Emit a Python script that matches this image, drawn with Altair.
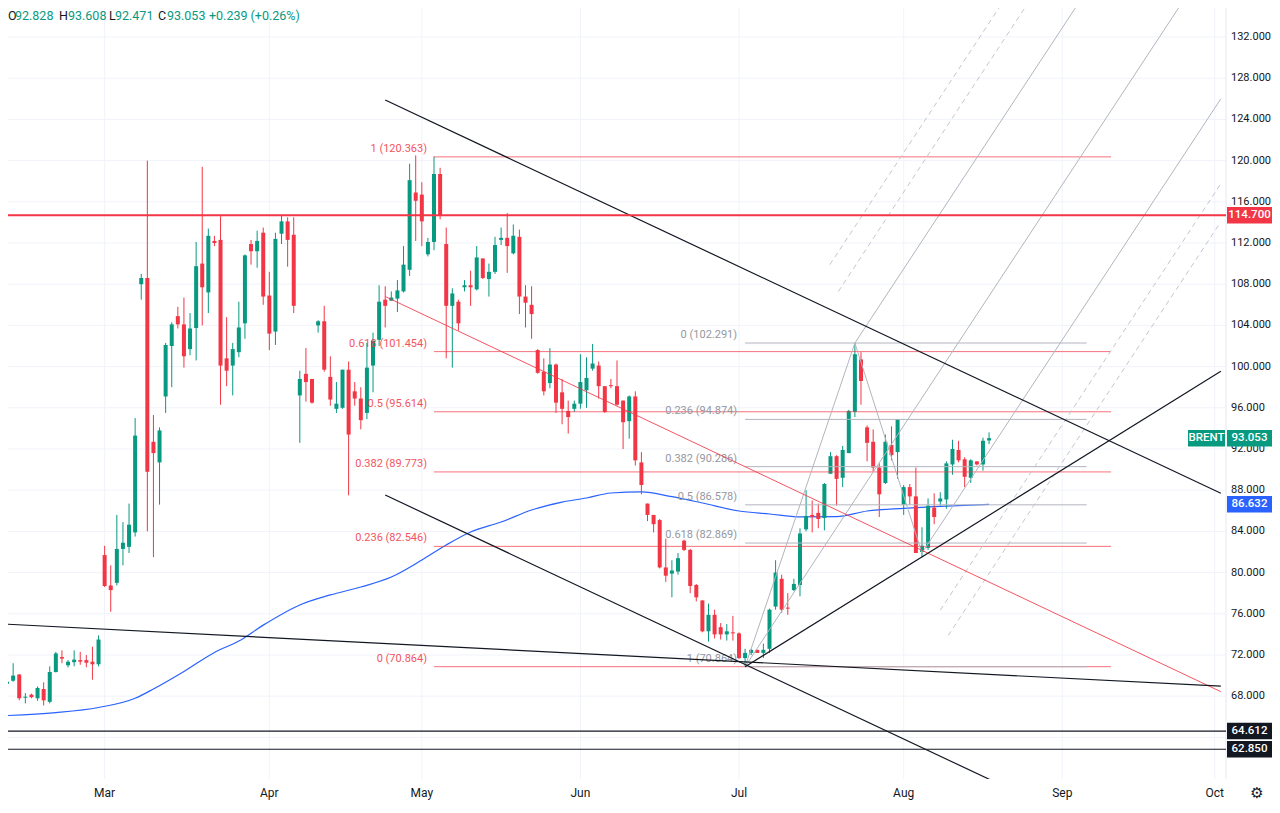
import altair as alt
import pandas as pd
import numpy as np

# ---------------- OHLC daily bars (Feb .. Aug 17) ----------------
bar_open = (
    [69.2, 69.5, 70.1, 67.85, 68.15, 67.8, 68.7, 67.45, 70.35, 71.8, 71.0, 71.3, 71.5, 71.5, 71.35, 71.1]  # Feb
    + [81.7, 78.75, 79.0, 82.3, 82.5, 83.9, 108.0, 108.6, 92.7, 90.7, 97.1, 102.0, 104.9, 104.1, 101.7,
       103.75, 110.0, 107.2, 112.2, 112.3, 100.8, 100.1, 101.4, 104.2, 111.9, 111.2, 113.0]  # Mar
    + [106.9, 103.4, 112.9, 114.1, 112.8, 97.2, 99.3, 98.8, 104.0, 104.4, 99.0, 95.9, 96.0, 99.7, 97.6,
       96.9, 95.5, 100.1, 102.6, 106.5, 106.4, 106.6, 107.3, 109.4, 116.9]  # Apr
    + [116.7, 110.9, 112.1, 118.7, 111.9, 105.9, 106.3, 107.7, 107.9, 107.5, 110.5, 108.5, 109.2, 112.3,
       112.5, 111.0, 112.6, 106.8, 106.0, 101.6, 99.5, 98.4, 100.2, 97.5, 95.7, 95.9]  # May
    + [96.4, 97.7, 99.8, 100.1, 98.1, 98.2, 98.1, 96.7, 94.7, 97.1, 90.7, 86.7, 85.6, 85.1, 80.5, 79.9,
       80.1, 83.1, 82.2, 78.8, 77.3, 74.3, 75.9, 74.7, 74.0, 74.2]  # Jun
    + [74.1, 71.7, 72.2, 72.5, 72.2, 72.6, 76.7, 79.4, 76.6, 78.3, 78.8, 84.2, 85.6, 85.8, 85.3, 89.6,
       91.3, 89.2, 91.6, 95.6, 100.7, 94.1, 92.7, 90.2, 88.7, 92.4, 91.7]  # Jul
    + [86.6, 88.3, 87.4, 82.0, 82.4, 86.3, 86.9, 87.1, 90.5, 91.9, 91.0, 89.2, 90.8, 90.5, 92.828]  # Aug
)
bar_high = (
    [69.6, 71.2, 70.15, 68.3, 68.25, 68.95, 69.35, 70.9, 72.3, 72.45, 71.5, 72.45, 72.3, 72.0, 72.8, 73.9]
    + [82.6, 80.7, 85.6, 84.9, 86.7, 95.0, 109.0, 120.0, 95.3, 94.1, 102.3, 104.3, 105.8, 106.7, 105.2,
       112.1, 119.4, 113.4, 112.7, 114.6, 104.8, 102.3, 106.3, 110.9, 112.3, 113.2, 113.5]
    + [109.2, 113.0, 114.7, 114.5, 114.5, 99.6, 101.8, 98.8, 104.5, 105.9, 101.0, 98.5, 99.7, 100.5, 98.5,
       98.0, 102.3, 103.3, 107.9, 107.8, 107.3, 108.4, 111.7, 119.7, 120.5]
    + [117.9, 112.5, 120.4, 119.3, 113.5, 107.6, 106.5, 108.4, 109.3, 111.7, 110.5, 110.0, 112.6, 113.5,
       114.9, 113.8, 113.3, 107.9, 107.8, 101.7, 100.8, 101.8, 100.3, 98.8, 96.7, 96.7]
    + [101.2, 100.9, 102.2, 100.5, 98.1, 98.8, 100.6, 96.7, 97.2, 97.6, 91.7, 86.7, 85.6, 85.2, 83.3, 81.2,
       81.9, 83.2, 82.3, 78.9, 77.3, 77.0, 76.4, 75.1, 75.0, 75.8]
    + [74.2, 72.6, 72.6, 72.5, 73.1, 76.5, 81.2, 79.8, 78.0, 79.4, 84.3, 88.0, 87.0, 86.7, 88.7, 91.7,
       91.4, 92.3, 95.8, 102.3, 101.4, 94.3, 93.9, 90.6, 93.4, 94.2, 94.9]
    + [88.5, 88.6, 90.2, 84.4, 87.2, 87.7, 87.8, 90.8, 92.9, 92.8, 91.2, 91.0, 90.8, 93.1, 93.608]
)
bar_low = (
    [69.0, 69.4, 67.6, 67.3, 67.8, 67.55, 67.1, 67.3, 70.3, 71.2, 70.8, 70.9, 71.05, 70.8, 69.6, 70.9]
    + [78.6, 76.2, 78.75, 80.7, 81.9, 83.5, 106.5, 84.0, 81.5, 86.6, 95.5, 98.0, 103.7, 99.9, 101.1,
       100.6, 104.0, 105.2, 111.7, 96.3, 98.1, 97.2, 100.9, 102.7, 109.9, 109.6, 106.0]
    + [101.6, 102.1, 111.9, 109.7, 105.2, 92.6, 96.6, 96.4, 103.3, 99.5, 96.2, 95.5, 95.9, 87.5, 96.2,
       93.9, 94.9, 97.5, 102.0, 103.8, 106.4, 105.3, 107.2, 108.8, 112.2]
    + [111.7, 110.7, 111.3, 114.3, 100.8, 99.9, 103.5, 107.3, 105.9, 107.4, 108.5, 106.8, 109.0, 111.8,
       109.1, 110.9, 105.1, 103.8, 102.7, 99.3, 97.2, 97.9, 95.5, 94.4, 93.5, 95.6]
    + [95.9, 96.0, 99.6, 96.9, 95.5, 97.9, 96.2, 92.0, 93.0, 90.4, 87.6, 85.0, 83.9, 80.4, 79.1, 77.6,
       79.8, 82.1, 78.0, 77.2, 74.2, 73.3, 73.6, 73.5, 73.4, 73.4]
    + [71.6, 70.86, 72.0, 72.2, 71.7, 72.2, 76.4, 76.1, 75.9, 78.2, 77.7, 84.0, 83.9, 84.3, 84.1, 89.6,
       86.5, 88.3, 91.6, 95.1, 96.3, 90.8, 89.8, 85.4, 88.6, 90.9, 89.1]
    + [85.6, 86.6, 81.9, 81.5, 82.2, 84.7, 86.5, 86.2, 89.5, 90.7, 88.3, 88.7, 90.4, 89.9, 92.471]
)
bar_close = (
    [69.4, 70.0, 67.8, 67.95, 67.9, 68.8, 67.6, 70.35, 72.15, 71.65, 71.35, 71.55, 71.35, 71.25, 71.1, 73.5]
    + [78.7, 78.3, 82.3, 82.9, 84.65, 93.3, 108.6, 89.8, 91.6, 93.8, 102.1, 104.1, 104.1, 101.0, 103.7,
       109.75, 107.7, 112.7, 112.0, 100.1, 99.6, 101.7, 103.8, 110.8, 111.2, 112.2, 106.8]
    + [103.2, 112.4, 114.1, 112.3, 105.9, 98.8, 98.5, 96.5, 104.4, 99.7, 96.8, 96.4, 99.7, 93.4, 96.9,
       94.8, 99.9, 102.5, 106.3, 105.9, 106.7, 107.4, 109.9, 118.1, 116.1]
    + [114.1, 112.1, 118.7, 114.7, 105.9, 107.1, 104.2, 107.9, 107.7, 110.6, 108.6, 109.2, 111.8, 112.5,
       111.7, 112.7, 106.8, 106.2, 105.1, 99.4, 97.6, 100.2, 96.5, 95.9, 95.1, 96.4]
    + [98.5, 98.9, 100.3, 98.1, 95.6, 98.1, 96.3, 94.6, 97.1, 90.9, 88.5, 85.6, 84.7, 80.5, 79.7, 80.2,
       81.4, 82.2, 78.7, 77.6, 74.3, 75.9, 74.0, 74.0, 74.3, 74.1]
    + [71.7, 72.2, 72.5, 72.2, 72.5, 76.4, 80.0, 76.4, 76.5, 78.9, 83.8, 85.5, 85.4, 85.2, 88.6, 91.3,
       89.1, 91.9, 95.7, 101.2, 98.6, 92.6, 90.2, 87.6, 92.7, 91.4, 94.9]
    + [88.3, 87.4, 81.9, 82.6, 86.5, 85.4, 87.2, 90.6, 92.0, 90.9, 89.3, 90.9, 90.5, 92.8, 93.053]
)

# month ticks (bar index of first bar of month)
month_names = ["Mar", "Apr", "May", "Jun", "Jul", "Aug", "Sep", "Oct"]
month_bar = [16, 43, 68, 94, 120, 147, 173, 198]
grid_prices = list(range(64, 133, 4))
label_prices = list(range(68, 133, 4))

# moving average (blue)
ma_bar = [-1, 8, 15, 21, 24, 29, 34, 38, 42, 48, 53, 58, 63, 68, 72, 76, 81, 86, 91, 95,
          99, 104, 109, 114, 120, 125, 130, 136, 141, 147, 152, 161]
ma_val = [66.1, 66.4, 66.9, 67.8, 68.7, 70.4, 72.25, 73.35, 74.9, 76.86, 77.83, 78.6, 79.57,
          81.22, 82.68, 83.94, 84.91, 86.08, 86.85, 87.24, 87.73, 87.83, 87.37, 86.76, 85.98, 85.69,
          85.4, 85.43, 85.98, 86.24, 86.40, 86.63]

# Fibonacci retracements
fib_red_ratio = ["1", "0.618", "0.5", "0.382", "0.236", "0"]
fib_red_price = [120.363, 101.454, 95.614, 89.773, 82.546, 70.864]
fib_red_span = [70, 181]
fib_grey_ratio = ["0", "0.236", "0.382", "0.5", "0.618", "1"]
fib_grey_price = [102.291, 94.874, 90.286, 86.578, 82.869, 70.864]
fib_grey_span = [121, 177]

# horizontal levels
red_level = [114.7]
black_levels = [64.612, 62.850]

# black trend lines (x1, y1, x2, y2 in bar index / price)
black_x1 = [62, 62, -5, 121]
black_y1 = [125.88, 87.53, 75.14, 70.86]
black_x2 = [199, 199, 199, 199]
black_y2 = [87.70, 49.35, 68.97, 99.54]

# red diagonal
reddiag_x1, reddiag_y1, reddiag_x2, reddiag_y2 = [62], [106.8], [199], [68.44]

# pitchfork (solid): P1-P2, P2-P3, median, upper tine, lower tine
pf_x1 = [121, 139, 121, 139, 150]
pf_y1 = [70.86, 102.29, 70.86, 102.29, 81.9]
pf_x2 = [139, 150, 193, 176, 199]
pf_y2 = [102.29, 81.9, 135.66, 135.59, 126.0]
# pitchfork extra levels (dashed)
pfd_x1 = [136.3, 134.9, 153.0, 154.3]
pfd_y1 = [107.3, 109.9, 76.35, 73.9]
pfd_x2 = [168, 164, 199, 199]
pfd_y2 = [135.86, 136.06, 117.76, 114.06]

# right-scale price tags
tag_price = [114.7, 93.053, 86.632, 64.612, 62.850]
tag_fill = ["#f23645", "#089981", "#2962ff", "#131722", "#131722"]

# ---------------- build ----------------
GREEN, RED, INK = "#089981", "#f23645", "#131722"
X0, X1 = 0.9756, 199.0244
Y0, Y1 = 59.96, 134.816
W, H = 1218, 771
xs = alt.Scale(domain=[X0, X1], nice=False, zero=False)
ys = alt.Scale(domain=[Y0, Y1], nice=False, zero=False)
FONT = "Roboto"

n = len(bar_open)
df = pd.DataFrame({"i": np.arange(n), "o": bar_open, "h": bar_high, "l": bar_low, "c": bar_close})
df["dir"] = np.where(df.c >= df.o, "up", "down")
small = (df.c - df.o).abs() < 0.1
df["c2"] = np.where(small, np.where(df.dir == "up", df.o + 0.1, df.o - 0.1), df.c)
col = alt.Color("dir:N", scale=alt.Scale(domain=["up", "down"], range=[GREEN, RED]), legend=None)


def xq(f, **kw):
    return alt.X(f, type="quantitative", scale=xs, axis=None, **kw)


def yq(f, **kw):
    return alt.Y(f, type="quantitative", scale=ys, axis=None, **kw)


layers = []

# grid
layers.append(alt.Chart(pd.DataFrame({"p": grid_prices})).mark_rule(
    color="#f0f3fa", strokeWidth=1, clip=True).encode(y=yq("p")))
layers.append(alt.Chart(pd.DataFrame({"b": month_bar})).mark_rule(
    color="#f0f3fa", strokeWidth=1, clip=True).encode(x=xq("b")))
# price-scale separator
layers.append(alt.Chart(pd.DataFrame({"a": [0]})).mark_rule(color="#e6e8ee", strokeWidth=1).encode(
    x=alt.value(W), y=alt.value(0), y2=alt.value(H)))

# MA
ma_df = pd.DataFrame({"i": ma_bar, "v": ma_val})
layers.append(alt.Chart(ma_df).mark_line(color="#2962ff", strokeWidth=1.2, clip=True,
                                         interpolate="monotone").encode(x=xq("i"), y=yq("v")))

# candles
layers.append(alt.Chart(df).mark_rule(strokeWidth=1, clip=True).encode(
    x=xq("i"), y=yq("l"), y2="h", color=col))
layers.append(alt.Chart(df).mark_bar(size=4, clip=True).encode(x=xq("i"), y=yq("o"), y2="c2", color=col))

# fib red
fr = pd.DataFrame({"p": fib_red_price, "r": fib_red_ratio})
fr["x1"], fr["x2"] = fib_red_span[0], fib_red_span[1]
fr["t"] = [f"{r} ({p:.3f})" for r, p in zip(fib_red_ratio, fib_red_price)]
layers.append(alt.Chart(fr).mark_rule(color=RED, strokeWidth=1, opacity=0.7, clip=True).encode(
    x=xq("x1"), x2="x2", y=yq("p")))
layers.append(alt.Chart(fr).mark_text(align="right", baseline="bottom", dy=-3, dx=-7, fontSize=11,
                                      color=RED, opacity=0.85, font=FONT).encode(
    x=xq("x1"), y=yq("p"), text="t"))

# fib grey
fg = pd.DataFrame({"p": fib_grey_price, "r": fib_grey_ratio})
fg["x1"], fg["x2"] = fib_grey_span[0], fib_grey_span[1]
fg["t"] = [f"{r} ({p:.3f})" for r, p in zip(fib_grey_ratio, fib_grey_price)]
layers.append(alt.Chart(fg).mark_rule(color="#b2b5be", strokeWidth=1, clip=True).encode(
    x=xq("x1"), x2="x2", y=yq("p")))
layers.append(alt.Chart(fg).mark_text(align="right", baseline="bottom", dy=-3, dx=-8, fontSize=11,
                                      color="#9598a1", font=FONT).encode(
    x=xq("x1"), y=yq("p"), text="t"))

# pitchfork
pf = pd.DataFrame({"x1": pf_x1, "y1": pf_y1, "x2": pf_x2, "y2": pf_y2})
layers.append(alt.Chart(pf).mark_rule(color="#b2b5be", strokeWidth=1, clip=True).encode(
    x=xq("x1"), y=yq("y1"), x2="x2", y2="y2"))
pfd = pd.DataFrame({"x1": pfd_x1, "y1": pfd_y1, "x2": pfd_x2, "y2": pfd_y2})
layers.append(alt.Chart(pfd).mark_rule(color="#c3c6ce", strokeWidth=1, strokeDash=[5, 4], clip=True).encode(
    x=xq("x1"), y=yq("y1"), x2="x2", y2="y2"))

# red diagonal
rd = pd.DataFrame({"x1": reddiag_x1, "y1": reddiag_y1, "x2": reddiag_x2, "y2": reddiag_y2})
layers.append(alt.Chart(rd).mark_rule(color=RED, strokeWidth=1, opacity=0.85, clip=True).encode(
    x=xq("x1"), y=yq("y1"), x2="x2", y2="y2"))

# black trend lines
bl = pd.DataFrame({"x1": black_x1, "y1": black_y1, "x2": black_x2, "y2": black_y2})
layers.append(alt.Chart(bl).mark_rule(color=INK, strokeWidth=1.2, clip=True).encode(
    x=xq("x1"), y=yq("y1"), x2="x2", y2="y2"))

# horizontal levels
layers.append(alt.Chart(pd.DataFrame({"p": black_levels})).mark_rule(
    color=INK, strokeWidth=1.2, clip=True).encode(y=yq("p")))
layers.append(alt.Chart(pd.DataFrame({"p": red_level})).mark_rule(
    color=RED, strokeWidth=2, clip=True).encode(y=yq("p")))

# price-axis labels (right) and month labels (bottom)
layers.append(alt.Chart(pd.DataFrame({"p": label_prices})).transform_calculate(
    t="format(datum.p, '.3f')").mark_text(align="left", baseline="middle", fontSize=11,
                                         color=INK, font=FONT).encode(
    x=alt.value(W + 5), y=yq("p"), text="t:N"))
layers.append(alt.Chart(pd.DataFrame({"b": month_bar, "m": month_names})).mark_text(
    align="center", baseline="middle", fontSize=12, color=INK, font=FONT).encode(
    x=xq("b"), y=alt.value(H + 14), text="m:N"))
# price-scale panel masks the month label that runs under it
layers.append(alt.Chart(pd.DataFrame({"a": [0]})).mark_rect(color="white").encode(
    x=alt.value(W + 1), x2=alt.value(W + 46), y=alt.value(H + 1), y2=alt.value(H + 24)))

# price tags on the right scale
HALF = 0.8
tg = pd.DataFrame({"p": tag_price, "fill": tag_fill})
tg["yt"], tg["yb"] = tg.p + HALF, tg.p - HALF
tg["t"] = [f"{p:.3f}" for p in tag_price]
layers.append(alt.Chart(tg).mark_rect().encode(
    x=alt.value(W + 1), x2=alt.value(W + 46), y=yq("yt"), y2="yb",
    color=alt.Color("fill:N", scale=None)))
layers.append(alt.Chart(tg).mark_text(fontSize=11.5, color="white", font=FONT, fontWeight=500).encode(
    x=alt.value(W + 23.5), y=yq("p"), text="t"))
tb = pd.DataFrame({"p": [tag_price[1]], "t": ["BRENT"]})
tb["yt"], tb["yb"] = tb.p + HALF, tb.p - HALF
layers.append(alt.Chart(tb).mark_rect(color=GREEN).encode(
    x=alt.value(W - 38), x2=alt.value(W - 1), y=yq("yt"), y2="yb"))
layers.append(alt.Chart(tb).mark_text(fontSize=11.5, color="white", font=FONT, fontWeight=500).encode(
    x=alt.value(W - 19.5), y=yq("p"), text="t"))

# header (OHLC legend)
last = n - 1
header = [
    ("O", 0, INK), (f"{bar_open[last]:.3f}", 7, GREEN),
    ("H", 51, INK), (f"{bar_high[last]:.3f}", 60, GREEN),
    ("L", 101, INK), (f"{bar_low[last]:.3f}", 107, GREEN),
    ("C", 150, INK), (f"{bar_close[last]:.3f}", 159, GREEN),
    ("+0.239 (+0.26%)", 201, GREEN),
]
for txt, px, c in header:
    layers.append(alt.Chart(pd.DataFrame({"t": [txt]})).mark_text(
        align="left", baseline="middle", fontSize=12.5, color=c, font=FONT).encode(
        x=alt.value(px), y=alt.value(8), text="t"))

# settings glyph
layers.append(alt.Chart(pd.DataFrame({"t": ["\u2699"]})).mark_text(
    align="center", baseline="middle", fontSize=15, color=INK, font="DejaVu Sans").encode(
    x=alt.value(1249), y=alt.value(785), text="t"))

chart = alt.layer(*layers).properties(
    width=W, height=H, background="white",
    padding={"left": 0, "top": 0, "right": 46, "bottom": 24},
    autosize=alt.AutoSizeParams(type="none"),
).configure_view(stroke=None)

chart.save("out.html", embed_options={"renderer": "svg", "actions": False})
